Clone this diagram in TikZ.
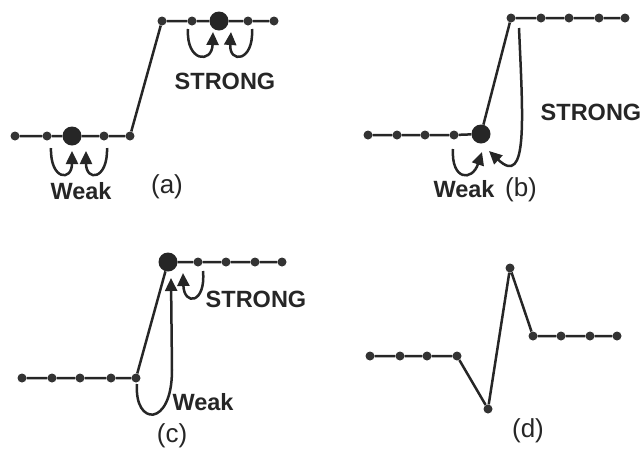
\documentclass[tikz,border=0pt]{standalone}
\usepackage{fontspec}
\setmainfont{Liberation Sans}
\usetikzlibrary{arrows.meta}
\begin{document}
\begin{tikzpicture}[x=1pt,y=-1pt,
  sdot/.style={circle, fill=black!80, inner sep=0pt, minimum size=9pt},
  bdot/.style={circle, fill=black!85, inner sep=0pt, minimum size=19pt},
  bond/.style={draw=black!85, line width=2.5pt},
  hop/.style={draw=black!85, line width=2.5pt, -{Triangle[length=13pt,width=12pt]}},
  lbl/.style={font=\fontsize{23.5}{24}\selectfont\bfseries, anchor=base, text=black!85, inner sep=0pt},
  tag/.style={font=\fontsize{26}{26}\selectfont, anchor=base, text=black!85, inner sep=0pt}]
\useasboundingbox (0,0) rectangle (642,448);

% ---------- (a) ----------
\node[sdot] (a1) at (15,136) {};
\node[sdot] (a2) at (47,136) {};
\node[bdot] (a3) at (72,136) {};
\node[sdot] (a4) at (104,136) {};
\node[sdot] (a5) at (130,136) {};
\node[sdot] (a6) at (162,21) {};
\node[sdot] (a7) at (192,21) {};
\node[bdot] (a8) at (219,21) {};
\node[sdot] (a9) at (248,21) {};
\node[sdot] (a10) at (274,21) {};
\draw[bond] (a1) -- (a2) -- (a3) -- (a4) -- (a5) -- (a6) -- (a7) -- (a8) -- (a9) -- (a10);
\coordinate (aw1) at (51,148);  \coordinate (aw1t) at (72,151);
\coordinate (aw2) at (107,148); \coordinate (aw2t) at (86,151);
\coordinate (as1) at (188,29);  \coordinate (as1t) at (213,32);
\coordinate (as2) at (252,29);  \coordinate (as2t) at (231,32);
\draw[hop] (aw1) .. controls (50,180) and (72,182) .. (aw1t);
\draw[hop] (aw2) .. controls (108,180) and (86,182) .. (aw2t);
\draw[hop] (as1) .. controls (186,62) and (212,64) .. (as1t);
\draw[hop] (as2) .. controls (254,62) and (229,64) .. (as2t);
\node[lbl] (aS) at (225,89) {STRONG};
\node[lbl] (aW) at (81,199) {Weak};
\node[tag] (aL) at (167,193) {(a)};

% ---------- (b) ----------
\node[sdot] (b1) at (368,135) {};
\node[sdot] (b2) at (397,135) {};
\node[sdot] (b3) at (425,135) {};
\node[sdot] (b4) at (454,135) {};
\node[bdot] (b5) at (481,134) {};
\node[sdot] (b6) at (511,18) {};
\node[sdot] (b7) at (541,18) {};
\node[sdot] (b8) at (569,18) {};
\node[sdot] (b9) at (599,18) {};
\node[sdot] (b10) at (625,18) {};
\draw[bond] (b1) -- (b2) -- (b3) -- (b4) -- (b5) -- (b6) -- (b7) -- (b8) -- (b9) -- (b10);
\coordinate (bw) at (453,149);  \coordinate (bwt) at (482,152);
\coordinate (bs) at (519,28);   \coordinate (bst) at (489,151);
\draw[hop] (bw) .. controls (451,180) and (472,182) .. (bwt);
\draw[hop] (bs) .. controls (523,120) and (528,188) .. (bst);
\node[lbl] (bS) at (591,120) {STRONG};
\node[lbl] (bW) at (464,197) {Weak};
\node[tag] (bL) at (521,196) {(b)};

% ---------- (c) ----------
\node[sdot] (c1) at (22,378) {};
\node[sdot] (c2) at (52,378) {};
\node[sdot] (c3) at (80,378) {};
\node[sdot] (c4) at (111,378) {};
\node[sdot] (c5) at (136,378) {};
\node[bdot] (c6) at (168,262) {};
\node[sdot] (c7) at (198,262) {};
\node[sdot] (c8) at (226,262) {};
\node[sdot] (c9) at (255,262) {};
\node[sdot] (c10) at (282,262) {};
\draw[bond] (c1) -- (c2) -- (c3) -- (c4) -- (c5) -- (c6) -- (c7) -- (c8) -- (c9) -- (c10);
\coordinate (cw) at (137,384);  \coordinate (cwt) at (171,278);
\coordinate (cs) at (203,271);  \coordinate (cst) at (183,273);
\draw[hop] (cw) .. controls (134,426) and (172,428) .. (172,370) -- (cwt);
\draw[hop] (cs) .. controls (206,304) and (184,306) .. (cst);
\node[lbl] (cS) at (256,307) {STRONG};
\node[lbl] (cW) at (203,410) {Weak};
\node[tag] (cL) at (172,442) {(c)};

% ---------- (d) ----------
\node[sdot] (d1) at (370,356) {};
\node[sdot] (d2) at (400,356) {};
\node[sdot] (d3) at (427,356) {};
\node[sdot] (d4) at (457,356) {};
\node[sdot] (d5) at (488,409) {};
\node[sdot] (d6) at (510,268) {};
\node[sdot] (d7) at (533,336) {};
\node[sdot] (d8) at (561,336) {};
\node[sdot] (d9) at (590,336) {};
\node[sdot] (d10) at (617,336) {};
\draw[bond] (d1) -- (d2) -- (d3) -- (d4) -- (d5) -- (d6) -- (d7) -- (d8) -- (d9) -- (d10);
\node[tag] (dL) at (528,437) {(d)};
\end{tikzpicture}
\end{document}
